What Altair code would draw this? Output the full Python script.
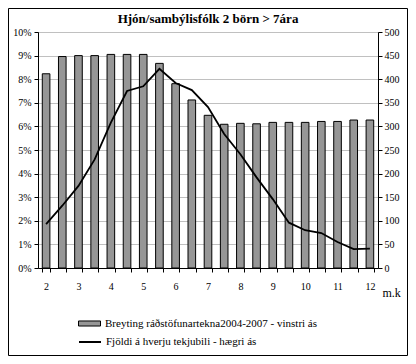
import altair as alt
import pandas as pd

# Data
categories = [2, 2.5, 3, 3.5, 4, 4.5, 5, 5.5, 6, 6.5, 7, 7.5, 8, 8.5, 9, 9.5, 10, 10.5, 11, 11.5, 12]
bar_pct = [8.23, 8.96, 9.0, 9.0, 9.05, 9.05, 9.05, 8.67, 7.81, 7.12, 6.47, 6.09, 6.13, 6.11,
           6.17, 6.17, 6.17, 6.21, 6.21, 6.27, 6.27]
line_count = [93, 132, 174, 230, 308, 375, 385, 422, 392, 377, 341, 284, 241, 192, 146, 96,
              80, 74, 55, 40, 41]
left_ticks = [0, 1, 2, 3, 4, 5, 6, 7, 8, 9, 10]
right_ticks = [0, 50, 100, 150, 200, 250, 300, 350, 400, 450, 500]
bar_label = "Breyting ráðstöfunartekna2004-2007 - vinstri ás"
line_label = "Fjöldi á hverju tekjubili - hægri ás"
title_text = "Hjón/sambýlisfólk 2 börn > 7ára"

FONT = "Liberation Serif"

df = pd.DataFrame({"k": categories, "pct": bar_pct, "n": line_count})
df["s1"] = bar_label
df["s2"] = line_label

xaxis = alt.Axis(
    labelExpr="datum.value % 1 == 0 ? datum.value : ''",
    labelAngle=0, tickBand="extent", tickSize=4, labelPadding=9,
    domainColor="black", tickColor="black", labelFont=FONT, labelFontSize=10,
    labelColor="black", grid=False,
    title="m.k", titleFont=FONT, titleFontSize=12, titleFontWeight="normal",
    titleX=344, titleY=28, titleAlign="left", titleBaseline="alphabetic", titleColor="black",
)
xenc = alt.X("k:O", axis=xaxis, scale=alt.Scale(paddingInner=0.53, paddingOuter=0.265))

bars = alt.Chart(df).mark_bar(stroke="black", strokeWidth=1).encode(
    x=xenc,
    y=alt.Y("pct:Q", scale=alt.Scale(domain=[0, 10], nice=False),
            axis=alt.Axis(values=left_ticks, labelExpr="datum.value + '%'", title=None,
                          grid=True, gridColor="#c0c0c0", gridWidth=1,
                          tickSize=4, labelPadding=3, domainColor="black", tickColor="black",
                          labelFont=FONT, labelFontSize=10, labelColor="black")),
    fill=alt.Fill("s1:N", scale=alt.Scale(range=["#969696"]),
                  legend=alt.Legend(orient="none", legendX=40, legendY=280, title=None,
                                    symbolType="M-1,-0.23H1V0.23H-1Z", symbolSize=484,
                                    symbolStrokeColor="black", symbolStrokeWidth=1,
                                    symbolFillColor="#969696", symbolOpacity=1,
                                    labelFont=FONT, labelFontSize=11, labelColor="black",
                                    labelLimit=0, padding=0)),
)

line = alt.Chart(df).mark_line(strokeWidth=1.8).encode(
    x=xenc,
    y=alt.Y("n:Q", scale=alt.Scale(domain=[0, 500], nice=False),
            axis=alt.Axis(orient="right", values=right_ticks, title=None, grid=False,
                          tickSize=4, labelPadding=2, domainColor="black", tickColor="black",
                          labelFont=FONT, labelFontSize=10, labelColor="black")),
    stroke=alt.Stroke("s2:N", scale=alt.Scale(range=["black"]),
                      legend=alt.Legend(orient="none", legendX=40, legendY=298, title=None,
                                        symbolType="stroke", symbolSize=484,
                                        symbolStrokeWidth=2,
                                        labelFont=FONT, labelFontSize=11, labelColor="black",
                                        labelLimit=0, padding=0)),
)

frame = alt.Chart(pd.DataFrame({"a": [0]})).mark_rect(
    filled=False, stroke="black", strokeWidth=1
).encode(
    x=alt.value(-29.5), x2=alt.value(369.5), y=alt.value(-23.5), y2=alt.value(323.5)
)

chart = alt.layer(bars, line, frame).resolve_scale(
    y="independent", fill="independent", stroke="independent"
).properties(
    width=340, height=236,
    title=alt.TitleParams(title_text, font=FONT, fontSize=13, fontWeight="bold",
                          color="black", anchor="middle", offset=4, dy=22),
    autosize=alt.AutoSizeParams(type="none"),
    padding={"left": 30, "top": 24, "right": 30, "bottom": 88},
    background="white",
).configure_view(stroke="#808080", strokeWidth=1
).configure_legend(labelFont=FONT, labelFontSize=11, labelColor="black")

chart.save("out.html", embed_options={"renderer": "svg", "actions": False})
